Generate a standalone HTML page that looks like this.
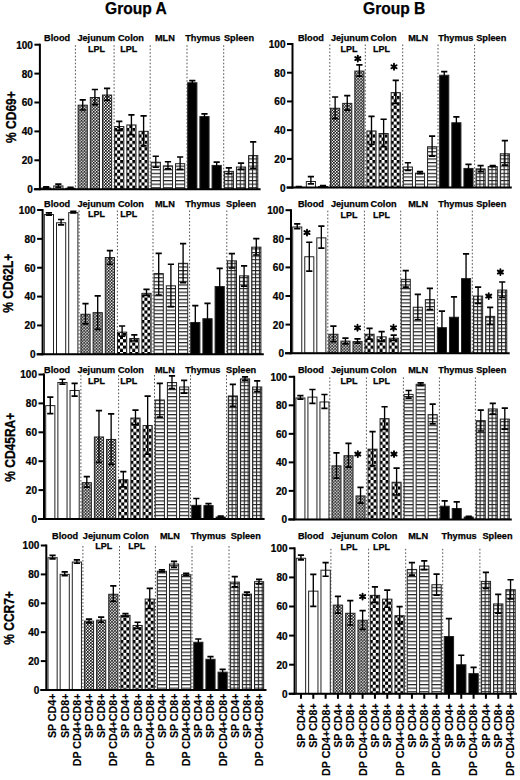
<!DOCTYPE html><html><head><meta charset="utf-8"><style>html,body{margin:0;padding:0;background:#fff;}svg{display:block;}text{font-family:"Liberation Sans",sans-serif;font-weight:bold;fill:#000;stroke:#000;stroke-width:0.25px;}</style></head><body>
<svg width="520" height="780" viewBox="0 0 520 780">
<defs>
<pattern id="pj" patternUnits="userSpaceOnUse" width="3" height="3"><rect width="3" height="3" fill="#fff"/><rect x="0" y="0" width="1.7" height="1.7" fill="#111"/><rect x="1.5" y="1.5" width="1.7" height="1.7" fill="#111"/></pattern>
<pattern id="pc" patternUnits="userSpaceOnUse" width="6" height="6.4"><rect width="6" height="6.4" fill="#fff"/><rect x="0" y="0" width="3" height="3.2" fill="#000"/><rect x="3" y="3.2" width="3" height="3.2" fill="#000"/></pattern>
<pattern id="pm" patternUnits="userSpaceOnUse" width="4" height="3.6"><rect width="4" height="3.6" fill="#fff"/><rect x="0" y="0" width="4" height="1.2" fill="#222"/></pattern>
<pattern id="ps" patternUnits="userSpaceOnUse" width="3.85" height="3.6"><rect width="3.85" height="3.6" fill="#fff"/><rect x="0" y="0" width="3.85" height="1.1" fill="#222"/><rect x="0" y="0" width="1.1" height="3.6" fill="#222"/></pattern>
</defs>
<rect width="520" height="780" fill="#fff"/>
<text x="105" y="13.8" font-size="15.6" text-anchor="start">Group A</text>
<text x="363" y="13.8" font-size="15.6" text-anchor="start">Group B</text>
<line x1="75.4" y1="45.2" x2="75.4" y2="189.2" stroke="#555" stroke-width="1" stroke-dasharray="1.6 1.9"/>
<line x1="114.1" y1="45.2" x2="114.1" y2="189.2" stroke="#555" stroke-width="1" stroke-dasharray="1.6 1.9"/>
<line x1="150.2" y1="45.2" x2="150.2" y2="189.2" stroke="#555" stroke-width="1" stroke-dasharray="1.6 1.9"/>
<line x1="187" y1="45.2" x2="187" y2="189.2" stroke="#555" stroke-width="1" stroke-dasharray="1.6 1.9"/>
<line x1="223.7" y1="45.2" x2="223.7" y2="189.2" stroke="#555" stroke-width="1" stroke-dasharray="1.6 1.9"/>
<g transform="translate(41.1 0)"><rect x="0.5" y="187.97" width="9.18" height="1.23" fill="#fff" stroke="#222" stroke-width="1"/></g>
<path d="M46.19 186.89V188.04" stroke="#000" stroke-width="1.35" fill="none"/>
<path d="M43.09 186.89H49.29M43.09 188.04H49.29" stroke="#000" stroke-width="1.7" fill="none"/>
<g transform="translate(53.28 0)"><rect x="0.5" y="185.94" width="9.18" height="3.26" fill="#fff" stroke="#222" stroke-width="1"/></g>
<path d="M58.36 184.14V187.03" stroke="#000" stroke-width="1.35" fill="none"/>
<path d="M55.26 184.14H61.46M55.26 187.03H61.46" stroke="#000" stroke-width="1.7" fill="none"/>
<g transform="translate(65.45 0)"><rect x="0.5" y="188.25" width="9.18" height="0.94" fill="#fff" stroke="#222" stroke-width="1"/></g>
<path d="M70.54 187.32V188.19" stroke="#000" stroke-width="1.35" fill="none"/>
<path d="M67.44 187.32H73.64M67.44 188.19H73.64" stroke="#000" stroke-width="1.7" fill="none"/>
<g transform="translate(77.63 0)"><rect x="0.5" y="105.17" width="9.18" height="84.03" fill="url(#pj)" stroke="#222" stroke-width="1"/></g>
<path d="M82.72 99.9V110.01" stroke="#000" stroke-width="1.35" fill="none"/>
<path d="M79.62 99.9H85.82M79.62 110.01H85.82" stroke="#000" stroke-width="1.7" fill="none"/>
<g transform="translate(89.81 0)"><rect x="0.5" y="97.51" width="9.18" height="91.69" fill="url(#pj)" stroke="#222" stroke-width="1"/></g>
<path d="M94.89 89.49V104.67" stroke="#000" stroke-width="1.35" fill="none"/>
<path d="M91.79 89.49H97.99M91.79 104.67H97.99" stroke="#000" stroke-width="1.7" fill="none"/>
<g transform="translate(101.98 0)"><rect x="0.5" y="95.05" width="9.18" height="94.15" fill="url(#pj)" stroke="#222" stroke-width="1"/></g>
<path d="M107.07 88.34V100.33" stroke="#000" stroke-width="1.35" fill="none"/>
<path d="M103.97 88.34H110.17M103.97 100.33H110.17" stroke="#000" stroke-width="1.7" fill="none"/>
<g transform="translate(114.16 0)"><rect x="0.5" y="126.55" width="9.18" height="62.65" fill="url(#pc)" stroke="#222" stroke-width="1"/></g>
<path d="M119.25 121.43V130.39" stroke="#000" stroke-width="1.35" fill="none"/>
<path d="M116.15 121.43H122.35M116.15 130.39H122.35" stroke="#000" stroke-width="1.7" fill="none"/>
<g transform="translate(126.34 0)"><rect x="0.5" y="124.96" width="9.18" height="64.24" fill="url(#pc)" stroke="#222" stroke-width="1"/></g>
<path d="M131.42 114.93V134.72" stroke="#000" stroke-width="1.35" fill="none"/>
<path d="M128.32 114.93H134.52M128.32 134.72H134.52" stroke="#000" stroke-width="1.7" fill="none"/>
<g transform="translate(138.51 0)"><rect x="0.5" y="131.32" width="9.18" height="57.88" fill="url(#pc)" stroke="#222" stroke-width="1"/></g>
<path d="M143.6 115.79V145.85" stroke="#000" stroke-width="1.35" fill="none"/>
<path d="M140.5 115.79H146.7M140.5 145.85H146.7" stroke="#000" stroke-width="1.7" fill="none"/>
<g transform="translate(150.69 0)"><rect x="0.5" y="162.24" width="9.18" height="26.96" fill="url(#pm)" stroke="#222" stroke-width="1"/></g>
<path d="M155.78 156.25V167.24" stroke="#000" stroke-width="1.35" fill="none"/>
<path d="M152.68 156.25H158.88M152.68 167.24H158.88" stroke="#000" stroke-width="1.7" fill="none"/>
<g transform="translate(162.86 0)"><rect x="0.5" y="165.86" width="9.18" height="23.34" fill="url(#pm)" stroke="#222" stroke-width="1"/></g>
<path d="M167.95 161.74V168.97" stroke="#000" stroke-width="1.35" fill="none"/>
<path d="M164.85 161.74H171.05M164.85 168.97H171.05" stroke="#000" stroke-width="1.7" fill="none"/>
<g transform="translate(175.04 0)"><rect x="0.5" y="163.69" width="9.18" height="25.51" fill="url(#pm)" stroke="#222" stroke-width="1"/></g>
<path d="M180.13 156.98V169.4" stroke="#000" stroke-width="1.35" fill="none"/>
<path d="M177.03 156.98H183.23M177.03 169.4H183.23" stroke="#000" stroke-width="1.7" fill="none"/>
<g transform="translate(187.22 0)"><rect x="0.5" y="82.77" width="9.18" height="106.43" fill="#000" stroke="#222" stroke-width="1"/></g>
<path d="M192.31 80.54V84" stroke="#000" stroke-width="1.35" fill="none"/>
<path d="M189.21 80.54H195.41M189.21 84H195.41" stroke="#000" stroke-width="1.7" fill="none"/>
<g transform="translate(199.39 0)"><rect x="0.5" y="116.58" width="9.18" height="72.62" fill="#000" stroke="#222" stroke-width="1"/></g>
<path d="M204.48 113.92V118.25" stroke="#000" stroke-width="1.35" fill="none"/>
<path d="M201.38 113.92H207.58M201.38 118.25H207.58" stroke="#000" stroke-width="1.7" fill="none"/>
<g transform="translate(211.57 0)"><rect x="0.5" y="165.42" width="9.18" height="23.78" fill="#000" stroke="#222" stroke-width="1"/></g>
<path d="M216.66 162.03V167.81" stroke="#000" stroke-width="1.35" fill="none"/>
<path d="M213.56 162.03H219.76M213.56 167.81H219.76" stroke="#000" stroke-width="1.7" fill="none"/>
<g transform="translate(223.75 0)"><rect x="0.5" y="171.35" width="9.18" height="17.85" fill="url(#ps)" stroke="#222" stroke-width="1"/></g>
<path d="M228.84 167.96V173.74" stroke="#000" stroke-width="1.35" fill="none"/>
<path d="M225.74 167.96H231.94M225.74 173.74H231.94" stroke="#000" stroke-width="1.7" fill="none"/>
<g transform="translate(235.92 0)"><rect x="0.5" y="167.01" width="9.18" height="22.19" fill="url(#ps)" stroke="#222" stroke-width="1"/></g>
<path d="M241.01 163.19V169.4" stroke="#000" stroke-width="1.35" fill="none"/>
<path d="M237.91 163.19H244.11M237.91 169.4H244.11" stroke="#000" stroke-width="1.7" fill="none"/>
<g transform="translate(248.1 0)"><rect x="0.5" y="155.6" width="9.18" height="33.6" fill="url(#ps)" stroke="#222" stroke-width="1"/></g>
<path d="M253.19 141.95V168.25" stroke="#000" stroke-width="1.35" fill="none"/>
<path d="M250.09 141.95H256.29M250.09 168.25H256.29" stroke="#000" stroke-width="1.7" fill="none"/>
<path d="M33.9 189.2H260.6" stroke="#000" stroke-width="2"/>
<path d="M39.9 43.7V190.2" stroke="#000" stroke-width="2"/>
<path d="M34.4 189.2H39.9" stroke="#000" stroke-width="2"/>
<text x="0" y="0" font-size="10.8" text-anchor="end" transform="translate(32.9 193.1) scale(0.93 1)">0</text>
<path d="M34.4 160.3H39.9" stroke="#000" stroke-width="2"/>
<text x="0" y="0" font-size="10.8" text-anchor="end" transform="translate(32.9 164.2) scale(0.93 1)">20</text>
<path d="M34.4 131.4H39.9" stroke="#000" stroke-width="2"/>
<text x="0" y="0" font-size="10.8" text-anchor="end" transform="translate(32.9 135.3) scale(0.93 1)">40</text>
<path d="M34.4 102.5H39.9" stroke="#000" stroke-width="2"/>
<text x="0" y="0" font-size="10.8" text-anchor="end" transform="translate(32.9 106.4) scale(0.93 1)">60</text>
<path d="M34.4 73.6H39.9" stroke="#000" stroke-width="2"/>
<text x="0" y="0" font-size="10.8" text-anchor="end" transform="translate(32.9 77.5) scale(0.93 1)">80</text>
<path d="M34.4 44.7H39.9" stroke="#000" stroke-width="2"/>
<text x="0" y="0" font-size="10.8" text-anchor="end" transform="translate(32.9 48.6) scale(0.93 1)">100</text>
<text x="44.1" y="40.8" font-size="9.2" text-anchor="start">Blood</text>
<text x="77.4" y="40.8" font-size="9.2" text-anchor="start">Jejunum</text>
<text x="117.9" y="40.8" font-size="9.2" text-anchor="start">Colon</text>
<text x="154.9" y="40.8" font-size="9.2" text-anchor="start">MLN</text>
<text x="185.2" y="40.8" font-size="9.2" text-anchor="start">Thymus</text>
<text x="223.9" y="40.8" font-size="9.2" text-anchor="start">Spleen</text>
<text x="87.9" y="51.6" font-size="9" text-anchor="start">LPL</text>
<text x="120.2" y="51.6" font-size="9" text-anchor="start">LPL</text>
<line x1="329.8" y1="44.5" x2="329.8" y2="187.6" stroke="#555" stroke-width="1" stroke-dasharray="1.6 1.9"/>
<line x1="365.3" y1="44.5" x2="365.3" y2="187.6" stroke="#555" stroke-width="1" stroke-dasharray="1.6 1.9"/>
<line x1="402.7" y1="44.5" x2="402.7" y2="187.6" stroke="#555" stroke-width="1" stroke-dasharray="1.6 1.9"/>
<line x1="438" y1="44.5" x2="438" y2="187.6" stroke="#555" stroke-width="1" stroke-dasharray="1.6 1.9"/>
<line x1="474.6" y1="44.5" x2="474.6" y2="187.6" stroke="#555" stroke-width="1" stroke-dasharray="1.6 1.9"/>
<g transform="translate(293.7 0)"><rect x="0.5" y="187.38" width="9.12" height="0.22" fill="#fff" stroke="#222" stroke-width="1"/></g>
<path d="M298.76 186.59V187.17" stroke="#000" stroke-width="1.35" fill="none"/>
<path d="M295.66 186.59H301.86M295.66 187.17H301.86" stroke="#000" stroke-width="1.7" fill="none"/>
<g transform="translate(305.82 0)"><rect x="0.5" y="181.49" width="9.12" height="6.11" fill="#fff" stroke="#222" stroke-width="1"/></g>
<path d="M310.89 176.69V183.87" stroke="#000" stroke-width="1.35" fill="none"/>
<path d="M307.79 176.69H313.99M307.79 183.87H313.99" stroke="#000" stroke-width="1.7" fill="none"/>
<g transform="translate(317.95 0)"><rect x="0.5" y="186.52" width="9.12" height="1.08" fill="#fff" stroke="#222" stroke-width="1"/></g>
<path d="M323.01 185.59V186.45" stroke="#000" stroke-width="1.35" fill="none"/>
<path d="M319.91 185.59H326.11M319.91 186.45H326.11" stroke="#000" stroke-width="1.7" fill="none"/>
<g transform="translate(330.07 0)"><rect x="0.5" y="108.26" width="9.12" height="79.34" fill="url(#pj)" stroke="#222" stroke-width="1"/></g>
<path d="M335.13 96.99V118.67" stroke="#000" stroke-width="1.35" fill="none"/>
<path d="M332.03 96.99H338.23M332.03 118.67H338.23" stroke="#000" stroke-width="1.7" fill="none"/>
<g transform="translate(342.19 0)"><rect x="0.5" y="103.38" width="9.12" height="84.22" fill="url(#pj)" stroke="#222" stroke-width="1"/></g>
<path d="M347.26 95.55V110.06" stroke="#000" stroke-width="1.35" fill="none"/>
<path d="M344.16 95.55H350.36M344.16 110.06H350.36" stroke="#000" stroke-width="1.7" fill="none"/>
<g transform="translate(354.32 0)"><rect x="0.5" y="71.07" width="9.12" height="116.53" fill="url(#pj)" stroke="#222" stroke-width="1"/></g>
<path d="M359.38 64.82V76.17" stroke="#000" stroke-width="1.35" fill="none"/>
<path d="M356.28 64.82H362.48M356.28 76.17H362.48" stroke="#000" stroke-width="1.7" fill="none"/>
<g transform="translate(366.44 0)"><rect x="0.5" y="130.95" width="9.12" height="56.65" fill="url(#pc)" stroke="#222" stroke-width="1"/></g>
<path d="M371.5 116.37V144.52" stroke="#000" stroke-width="1.35" fill="none"/>
<path d="M368.4 116.37H374.6M368.4 144.52H374.6" stroke="#000" stroke-width="1.7" fill="none"/>
<g transform="translate(378.56 0)"><rect x="0.5" y="133.53" width="9.12" height="54.07" fill="url(#pc)" stroke="#222" stroke-width="1"/></g>
<path d="M383.63 119.25V146.67" stroke="#000" stroke-width="1.35" fill="none"/>
<path d="M380.53 119.25H386.73M380.53 146.67H386.73" stroke="#000" stroke-width="1.7" fill="none"/>
<g transform="translate(390.69 0)"><rect x="0.5" y="92.61" width="9.12" height="94.99" fill="url(#pc)" stroke="#222" stroke-width="1"/></g>
<path d="M395.75 80.33V103.45" stroke="#000" stroke-width="1.35" fill="none"/>
<path d="M392.65 80.33H398.85M392.65 103.45H398.85" stroke="#000" stroke-width="1.7" fill="none"/>
<g transform="translate(402.81 0)"><rect x="0.5" y="166.99" width="9.12" height="20.61" fill="url(#pm)" stroke="#222" stroke-width="1"/></g>
<path d="M407.87 162.76V170.51" stroke="#000" stroke-width="1.35" fill="none"/>
<path d="M404.77 162.76H410.97M404.77 170.51H410.97" stroke="#000" stroke-width="1.7" fill="none"/>
<g transform="translate(414.94 0)"><rect x="0.5" y="173.17" width="9.12" height="14.43" fill="url(#pm)" stroke="#222" stroke-width="1"/></g>
<path d="M420 171.66V173.67" stroke="#000" stroke-width="1.35" fill="none"/>
<path d="M416.9 171.66H423.1M416.9 173.67H423.1" stroke="#000" stroke-width="1.7" fill="none"/>
<g transform="translate(427.06 0)"><rect x="0.5" y="146.74" width="9.12" height="40.86" fill="url(#pm)" stroke="#222" stroke-width="1"/></g>
<path d="M432.12 136.19V156.15" stroke="#000" stroke-width="1.35" fill="none"/>
<path d="M429.02 136.19H435.22M429.02 156.15H435.22" stroke="#000" stroke-width="1.7" fill="none"/>
<g transform="translate(439.18 0)"><rect x="0.5" y="75.23" width="9.12" height="112.37" fill="#000" stroke="#222" stroke-width="1"/></g>
<path d="M444.24 71.57V77.89" stroke="#000" stroke-width="1.35" fill="none"/>
<path d="M441.14 71.57H447.34M441.14 77.89H447.34" stroke="#000" stroke-width="1.7" fill="none"/>
<g transform="translate(451.31 0)"><rect x="0.5" y="122.76" width="9.12" height="64.84" fill="#000" stroke="#222" stroke-width="1"/></g>
<path d="M456.37 116.95V127.58" stroke="#000" stroke-width="1.35" fill="none"/>
<path d="M453.27 116.95H459.47M453.27 127.58H459.47" stroke="#000" stroke-width="1.7" fill="none"/>
<g transform="translate(463.43 0)"><rect x="0.5" y="168.43" width="9.12" height="19.17" fill="#000" stroke="#222" stroke-width="1"/></g>
<path d="M468.49 164.34V171.52" stroke="#000" stroke-width="1.35" fill="none"/>
<path d="M465.39 164.34H471.59M465.39 171.52H471.59" stroke="#000" stroke-width="1.7" fill="none"/>
<g transform="translate(475.55 0)"><rect x="0.5" y="168.86" width="9.12" height="18.74" fill="url(#ps)" stroke="#222" stroke-width="1"/></g>
<path d="M480.61 165.63V171.66" stroke="#000" stroke-width="1.35" fill="none"/>
<path d="M477.51 165.63H483.71M477.51 171.66H483.71" stroke="#000" stroke-width="1.7" fill="none"/>
<g transform="translate(487.68 0)"><rect x="0.5" y="166.56" width="9.12" height="21.04" fill="url(#ps)" stroke="#222" stroke-width="1"/></g>
<path d="M492.74 165.49V166.63" stroke="#000" stroke-width="1.35" fill="none"/>
<path d="M489.64 165.49H495.84M489.64 166.63H495.84" stroke="#000" stroke-width="1.7" fill="none"/>
<g transform="translate(499.8 0)"><rect x="0.5" y="153.78" width="9.12" height="33.82" fill="url(#ps)" stroke="#222" stroke-width="1"/></g>
<path d="M504.86 140.64V165.05" stroke="#000" stroke-width="1.35" fill="none"/>
<path d="M501.76 140.64H507.96M501.76 165.05H507.96" stroke="#000" stroke-width="1.7" fill="none"/>
<path d="M286.5 187.6H511.8" stroke="#000" stroke-width="2"/>
<path d="M292.5 43V188.6" stroke="#000" stroke-width="2"/>
<path d="M287 187.6H292.5" stroke="#000" stroke-width="2"/>
<text x="0" y="0" font-size="10.8" text-anchor="end" transform="translate(285.5 191.5) scale(0.93 1)">0</text>
<path d="M287 158.88H292.5" stroke="#000" stroke-width="2"/>
<text x="0" y="0" font-size="10.8" text-anchor="end" transform="translate(285.5 162.78) scale(0.93 1)">20</text>
<path d="M287 130.16H292.5" stroke="#000" stroke-width="2"/>
<text x="0" y="0" font-size="10.8" text-anchor="end" transform="translate(285.5 134.06) scale(0.93 1)">40</text>
<path d="M287 101.44H292.5" stroke="#000" stroke-width="2"/>
<text x="0" y="0" font-size="10.8" text-anchor="end" transform="translate(285.5 105.34) scale(0.93 1)">60</text>
<path d="M287 72.72H292.5" stroke="#000" stroke-width="2"/>
<text x="0" y="0" font-size="10.8" text-anchor="end" transform="translate(285.5 76.62) scale(0.93 1)">80</text>
<path d="M287 44H292.5" stroke="#000" stroke-width="2"/>
<text x="0" y="0" font-size="10.8" text-anchor="end" transform="translate(285.5 47.9) scale(0.93 1)">100</text>
<path d="M357.8 55.6L357.8 61.6M355.2 57.1L360.4 60.1M360.4 57.1L355.2 60.1" stroke="#000" stroke-width="1.9" stroke-linecap="round" fill="none"/>
<path d="M394 63.7L394 69.7M391.4 65.2L396.6 68.2M396.6 65.2L391.4 68.2" stroke="#000" stroke-width="1.9" stroke-linecap="round" fill="none"/>
<text x="297.9" y="40.8" font-size="9.2" text-anchor="start">Blood</text>
<text x="330.9" y="40.8" font-size="9.2" text-anchor="start">Jejunum</text>
<text x="370.6" y="40.8" font-size="9.2" text-anchor="start">Colon</text>
<text x="408.15" y="40.8" font-size="9.2" text-anchor="start">MLN</text>
<text x="438.15" y="40.8" font-size="9.2" text-anchor="start">Thymus</text>
<text x="476.15" y="40.8" font-size="9.2" text-anchor="start">Spleen</text>
<text x="340.6" y="51.9" font-size="9" text-anchor="start">LPL</text>
<text x="372.9" y="51.9" font-size="9" text-anchor="start">LPL</text>
<line x1="79.1" y1="210.5" x2="79.1" y2="354.3" stroke="#555" stroke-width="1" stroke-dasharray="1.6 1.9"/>
<line x1="117.4" y1="210.5" x2="117.4" y2="354.3" stroke="#555" stroke-width="1" stroke-dasharray="1.6 1.9"/>
<line x1="153" y1="210.5" x2="153" y2="354.3" stroke="#555" stroke-width="1" stroke-dasharray="1.6 1.9"/>
<line x1="189.6" y1="210.5" x2="189.6" y2="354.3" stroke="#555" stroke-width="1" stroke-dasharray="1.6 1.9"/>
<line x1="226.8" y1="210.5" x2="226.8" y2="354.3" stroke="#555" stroke-width="1" stroke-dasharray="1.6 1.9"/>
<g transform="translate(43.8 0)"><rect x="0.5" y="214.54" width="9.2" height="139.76" fill="#fff" stroke="#222" stroke-width="1"/></g>
<path d="M48.9 212.89V215.19" stroke="#000" stroke-width="1.35" fill="none"/>
<path d="M45.8 212.89H52M45.8 215.19H52" stroke="#000" stroke-width="1.7" fill="none"/>
<g transform="translate(56 0)"><rect x="0.5" y="222.77" width="9.2" height="131.53" fill="#fff" stroke="#222" stroke-width="1"/></g>
<path d="M61.1 219.52V224.86" stroke="#000" stroke-width="1.35" fill="none"/>
<path d="M58 219.52H64.2M58 224.86H64.2" stroke="#000" stroke-width="1.7" fill="none"/>
<g transform="translate(68.2 0)"><rect x="0.5" y="212.66" width="9.2" height="141.64" fill="#fff" stroke="#222" stroke-width="1"/></g>
<path d="M73.3 211.44V212.89" stroke="#000" stroke-width="1.35" fill="none"/>
<path d="M70.2 211.44H76.4M70.2 212.89H76.4" stroke="#000" stroke-width="1.7" fill="none"/>
<g transform="translate(80.4 0)"><rect x="0.5" y="314.25" width="9.2" height="40.05" fill="url(#pj)" stroke="#222" stroke-width="1"/></g>
<path d="M85.5 303.65V323.85" stroke="#000" stroke-width="1.35" fill="none"/>
<path d="M82.4 303.65H88.6M82.4 323.85H88.6" stroke="#000" stroke-width="1.7" fill="none"/>
<g transform="translate(92.6 0)"><rect x="0.5" y="312.66" width="9.2" height="41.64" fill="url(#pj)" stroke="#222" stroke-width="1"/></g>
<path d="M97.7 295.86V329.34" stroke="#000" stroke-width="1.35" fill="none"/>
<path d="M94.6 295.86H100.8M94.6 329.34H100.8" stroke="#000" stroke-width="1.7" fill="none"/>
<g transform="translate(104.8 0)"><rect x="0.5" y="257.54" width="9.2" height="96.76" fill="url(#pj)" stroke="#222" stroke-width="1"/></g>
<path d="M109.9 250.55V264.26" stroke="#000" stroke-width="1.35" fill="none"/>
<path d="M106.8 250.55H113M106.8 264.26H113" stroke="#000" stroke-width="1.7" fill="none"/>
<g transform="translate(117 0)"><rect x="0.5" y="332.14" width="9.2" height="22.16" fill="url(#pc)" stroke="#222" stroke-width="1"/></g>
<path d="M122.1 326.02V336.26" stroke="#000" stroke-width="1.35" fill="none"/>
<path d="M119 326.02H125.2M119 336.26H125.2" stroke="#000" stroke-width="1.7" fill="none"/>
<g transform="translate(129.2 0)"><rect x="0.5" y="338.49" width="9.2" height="15.81" fill="url(#pc)" stroke="#222" stroke-width="1"/></g>
<path d="M134.3 334.82V341.02" stroke="#000" stroke-width="1.35" fill="none"/>
<path d="M131.2 334.82H137.4M131.2 341.02H137.4" stroke="#000" stroke-width="1.7" fill="none"/>
<g transform="translate(141.4 0)"><rect x="0.5" y="293.33" width="9.2" height="60.97" fill="url(#pc)" stroke="#222" stroke-width="1"/></g>
<path d="M146.5 289.37V295.43" stroke="#000" stroke-width="1.35" fill="none"/>
<path d="M143.4 289.37H149.6M143.4 295.43H149.6" stroke="#000" stroke-width="1.7" fill="none"/>
<g transform="translate(153.6 0)"><rect x="0.5" y="273.56" width="9.2" height="80.74" fill="url(#pm)" stroke="#222" stroke-width="1"/></g>
<path d="M158.7 253.43V294.99" stroke="#000" stroke-width="1.35" fill="none"/>
<path d="M155.6 253.43H161.8M155.6 294.99H161.8" stroke="#000" stroke-width="1.7" fill="none"/>
<g transform="translate(165.8 0)"><rect x="0.5" y="285.82" width="9.2" height="68.48" fill="url(#pm)" stroke="#222" stroke-width="1"/></g>
<path d="M170.9 264.26V306.68" stroke="#000" stroke-width="1.35" fill="none"/>
<path d="M167.8 264.26H174M167.8 306.68H174" stroke="#000" stroke-width="1.7" fill="none"/>
<g transform="translate(178 0)"><rect x="0.5" y="263.31" width="9.2" height="90.99" fill="url(#pm)" stroke="#222" stroke-width="1"/></g>
<path d="M183.1 243.62V282.58" stroke="#000" stroke-width="1.35" fill="none"/>
<path d="M180 243.62H186.2M180 282.58H186.2" stroke="#000" stroke-width="1.7" fill="none"/>
<g transform="translate(190.2 0)"><rect x="0.5" y="322.48" width="9.2" height="31.82" fill="#000" stroke="#222" stroke-width="1"/></g>
<path d="M195.3 305.67V338.28" stroke="#000" stroke-width="1.35" fill="none"/>
<path d="M192.2 305.67H198.4M192.2 338.28H198.4" stroke="#000" stroke-width="1.7" fill="none"/>
<g transform="translate(202.4 0)"><rect x="0.5" y="318.73" width="9.2" height="35.57" fill="#000" stroke="#222" stroke-width="1"/></g>
<path d="M207.5 303.36V333.09" stroke="#000" stroke-width="1.35" fill="none"/>
<path d="M204.4 303.36H210.6M204.4 333.09H210.6" stroke="#000" stroke-width="1.7" fill="none"/>
<g transform="translate(214.6 0)"><rect x="0.5" y="286.55" width="9.2" height="67.75" fill="#000" stroke="#222" stroke-width="1"/></g>
<path d="M219.7 268.44V303.65" stroke="#000" stroke-width="1.35" fill="none"/>
<path d="M216.6 268.44H222.8M216.6 303.65H222.8" stroke="#000" stroke-width="1.7" fill="none"/>
<g transform="translate(226.8 0)"><rect x="0.5" y="260.86" width="9.2" height="93.44" fill="url(#ps)" stroke="#222" stroke-width="1"/></g>
<path d="M231.9 253.58V268.01" stroke="#000" stroke-width="1.35" fill="none"/>
<path d="M228.8 253.58H235M228.8 268.01H235" stroke="#000" stroke-width="1.7" fill="none"/>
<g transform="translate(239 0)"><rect x="0.5" y="275.87" width="9.2" height="78.43" fill="url(#ps)" stroke="#222" stroke-width="1"/></g>
<path d="M244.1 265.84V286.05" stroke="#000" stroke-width="1.35" fill="none"/>
<path d="M241 265.84H247.2M241 286.05H247.2" stroke="#000" stroke-width="1.7" fill="none"/>
<g transform="translate(251.2 0)"><rect x="0.5" y="247.15" width="9.2" height="107.15" fill="url(#ps)" stroke="#222" stroke-width="1"/></g>
<path d="M256.3 238.72V255.02" stroke="#000" stroke-width="1.35" fill="none"/>
<path d="M253.2 238.72H259.4M253.2 255.02H259.4" stroke="#000" stroke-width="1.7" fill="none"/>
<path d="M36.6 354.3H263.8" stroke="#000" stroke-width="2"/>
<path d="M42.6 209V355.3" stroke="#000" stroke-width="2"/>
<path d="M37.1 354.3H42.6" stroke="#000" stroke-width="2"/>
<text x="0" y="0" font-size="10.8" text-anchor="end" transform="translate(35.6 358.2) scale(0.93 1)">0</text>
<path d="M37.1 325.44H42.6" stroke="#000" stroke-width="2"/>
<text x="0" y="0" font-size="10.8" text-anchor="end" transform="translate(35.6 329.34) scale(0.93 1)">20</text>
<path d="M37.1 296.58H42.6" stroke="#000" stroke-width="2"/>
<text x="0" y="0" font-size="10.8" text-anchor="end" transform="translate(35.6 300.48) scale(0.93 1)">40</text>
<path d="M37.1 267.72H42.6" stroke="#000" stroke-width="2"/>
<text x="0" y="0" font-size="10.8" text-anchor="end" transform="translate(35.6 271.62) scale(0.93 1)">60</text>
<path d="M37.1 238.86H42.6" stroke="#000" stroke-width="2"/>
<text x="0" y="0" font-size="10.8" text-anchor="end" transform="translate(35.6 242.76) scale(0.93 1)">80</text>
<path d="M37.1 210H42.6" stroke="#000" stroke-width="2"/>
<text x="0" y="0" font-size="10.8" text-anchor="end" transform="translate(35.6 213.9) scale(0.93 1)">100</text>
<text x="44.1" y="206.8" font-size="9.2" text-anchor="start">Blood</text>
<text x="77.4" y="206.8" font-size="9.2" text-anchor="start">Jejunum</text>
<text x="117.9" y="206.8" font-size="9.2" text-anchor="start">Colon</text>
<text x="154.9" y="206.8" font-size="9.2" text-anchor="start">MLN</text>
<text x="185.2" y="206.8" font-size="9.2" text-anchor="start">Thymus</text>
<text x="226" y="206.8" font-size="9.2" text-anchor="start">Spleen</text>
<text x="87.9" y="217.2" font-size="9" text-anchor="start">LPL</text>
<text x="120.2" y="217.2" font-size="9" text-anchor="start">LPL</text>
<line x1="327.8" y1="210.7" x2="327.8" y2="353.2" stroke="#555" stroke-width="1" stroke-dasharray="1.6 1.9"/>
<line x1="364.4" y1="210.7" x2="364.4" y2="353.2" stroke="#555" stroke-width="1" stroke-dasharray="1.6 1.9"/>
<line x1="400.7" y1="210.7" x2="400.7" y2="353.2" stroke="#555" stroke-width="1" stroke-dasharray="1.6 1.9"/>
<line x1="437.4" y1="210.7" x2="437.4" y2="353.2" stroke="#555" stroke-width="1" stroke-dasharray="1.6 1.9"/>
<line x1="472.3" y1="210.7" x2="472.3" y2="353.2" stroke="#555" stroke-width="1" stroke-dasharray="1.6 1.9"/>
<g transform="translate(292.2 0)"><rect x="0.5" y="227" width="9.06" height="126.2" fill="#fff" stroke="#222" stroke-width="1"/></g>
<path d="M297.23 223.93V228.65" stroke="#000" stroke-width="1.35" fill="none"/>
<path d="M294.13 223.93H300.33M294.13 228.65H300.33" stroke="#000" stroke-width="1.7" fill="none"/>
<g transform="translate(304.26 0)"><rect x="0.5" y="256.75" width="9.06" height="96.45" fill="#fff" stroke="#222" stroke-width="1"/></g>
<path d="M309.29 242.23V271.12" stroke="#000" stroke-width="1.35" fill="none"/>
<path d="M306.19 242.23H312.39M306.19 271.12H312.39" stroke="#000" stroke-width="1.7" fill="none"/>
<g transform="translate(316.32 0)"><rect x="0.5" y="237.87" width="9.06" height="115.33" fill="#fff" stroke="#222" stroke-width="1"/></g>
<path d="M321.35 226.07V248.09" stroke="#000" stroke-width="1.35" fill="none"/>
<path d="M318.25 226.07H324.45M318.25 248.09H324.45" stroke="#000" stroke-width="1.7" fill="none"/>
<g transform="translate(328.38 0)"><rect x="0.5" y="334.25" width="9.06" height="18.95" fill="url(#pj)" stroke="#222" stroke-width="1"/></g>
<path d="M333.41 326.03V341.76" stroke="#000" stroke-width="1.35" fill="none"/>
<path d="M330.31 326.03H336.51M330.31 341.76H336.51" stroke="#000" stroke-width="1.7" fill="none"/>
<g transform="translate(340.44 0)"><rect x="0.5" y="341.12" width="9.06" height="12.08" fill="url(#pj)" stroke="#222" stroke-width="1"/></g>
<path d="M345.46 338.04V343.9" stroke="#000" stroke-width="1.35" fill="none"/>
<path d="M342.36 338.04H348.56M342.36 343.9H348.56" stroke="#000" stroke-width="1.7" fill="none"/>
<g transform="translate(352.49 0)"><rect x="0.5" y="341.55" width="9.06" height="11.65" fill="url(#pj)" stroke="#222" stroke-width="1"/></g>
<path d="M357.52 338.9V343.19" stroke="#000" stroke-width="1.35" fill="none"/>
<path d="M354.42 338.9H360.62M354.42 343.19H360.62" stroke="#000" stroke-width="1.7" fill="none"/>
<g transform="translate(364.55 0)"><rect x="0.5" y="334.25" width="9.06" height="18.95" fill="url(#pc)" stroke="#222" stroke-width="1"/></g>
<path d="M369.58 328.46V339.04" stroke="#000" stroke-width="1.35" fill="none"/>
<path d="M366.48 328.46H372.68M366.48 339.04H372.68" stroke="#000" stroke-width="1.7" fill="none"/>
<g transform="translate(376.61 0)"><rect x="0.5" y="336.83" width="9.06" height="16.37" fill="url(#pc)" stroke="#222" stroke-width="1"/></g>
<path d="M381.64 331.61V341.05" stroke="#000" stroke-width="1.35" fill="none"/>
<path d="M378.54 331.61H384.74M378.54 341.05H384.74" stroke="#000" stroke-width="1.7" fill="none"/>
<g transform="translate(388.67 0)"><rect x="0.5" y="338.26" width="9.06" height="14.94" fill="url(#pc)" stroke="#222" stroke-width="1"/></g>
<path d="M393.7 335.18V340.33" stroke="#000" stroke-width="1.35" fill="none"/>
<path d="M390.6 335.18H396.8M390.6 340.33H396.8" stroke="#000" stroke-width="1.7" fill="none"/>
<g transform="translate(400.73 0)"><rect x="0.5" y="279.34" width="9.06" height="73.86" fill="url(#pm)" stroke="#222" stroke-width="1"/></g>
<path d="M405.76 270.69V287.13" stroke="#000" stroke-width="1.35" fill="none"/>
<path d="M402.66 270.69H408.86M402.66 287.13H408.86" stroke="#000" stroke-width="1.7" fill="none"/>
<g transform="translate(412.79 0)"><rect x="0.5" y="307.22" width="9.06" height="45.98" fill="url(#pm)" stroke="#222" stroke-width="1"/></g>
<path d="M417.82 294.28V319.74" stroke="#000" stroke-width="1.35" fill="none"/>
<path d="M414.72 294.28H420.92M414.72 319.74H420.92" stroke="#000" stroke-width="1.7" fill="none"/>
<g transform="translate(424.85 0)"><rect x="0.5" y="299.65" width="9.06" height="53.55" fill="url(#pm)" stroke="#222" stroke-width="1"/></g>
<path d="M429.88 288.28V309.58" stroke="#000" stroke-width="1.35" fill="none"/>
<path d="M426.78 288.28H432.98M426.78 309.58H432.98" stroke="#000" stroke-width="1.7" fill="none"/>
<g transform="translate(436.91 0)"><rect x="0.5" y="327.67" width="9.06" height="25.53" fill="#000" stroke="#222" stroke-width="1"/></g>
<path d="M441.94 311.16V343.19" stroke="#000" stroke-width="1.35" fill="none"/>
<path d="M438.84 311.16H445.04M438.84 343.19H445.04" stroke="#000" stroke-width="1.7" fill="none"/>
<g transform="translate(448.96 0)"><rect x="0.5" y="317.24" width="9.06" height="35.96" fill="#000" stroke="#222" stroke-width="1"/></g>
<path d="M453.99 296.86V336.61" stroke="#000" stroke-width="1.35" fill="none"/>
<path d="M450.89 296.86H457.09M450.89 336.61H457.09" stroke="#000" stroke-width="1.7" fill="none"/>
<g transform="translate(461.02 0)"><rect x="0.5" y="278.62" width="9.06" height="74.57" fill="#000" stroke="#222" stroke-width="1"/></g>
<path d="M466.05 253.96V302.29" stroke="#000" stroke-width="1.35" fill="none"/>
<path d="M462.95 253.96H469.15M462.95 302.29H469.15" stroke="#000" stroke-width="1.7" fill="none"/>
<g transform="translate(473.08 0)"><rect x="0.5" y="296.07" width="9.06" height="57.13" fill="url(#ps)" stroke="#222" stroke-width="1"/></g>
<path d="M478.11 287.13V303.29" stroke="#000" stroke-width="1.35" fill="none"/>
<path d="M475.01 287.13H481.21M475.01 303.29H481.21" stroke="#000" stroke-width="1.7" fill="none"/>
<g transform="translate(485.14 0)"><rect x="0.5" y="316.38" width="9.06" height="36.82" fill="url(#ps)" stroke="#222" stroke-width="1"/></g>
<path d="M490.17 307.44V324.31" stroke="#000" stroke-width="1.35" fill="none"/>
<path d="M487.07 307.44H493.27M487.07 324.31H493.27" stroke="#000" stroke-width="1.7" fill="none"/>
<g transform="translate(497.2 0)"><rect x="0.5" y="290.06" width="9.06" height="63.13" fill="url(#ps)" stroke="#222" stroke-width="1"/></g>
<path d="M502.23 281.99V297.29" stroke="#000" stroke-width="1.35" fill="none"/>
<path d="M499.13 281.99H505.33M499.13 297.29H505.33" stroke="#000" stroke-width="1.7" fill="none"/>
<path d="M285 353.2H509.7" stroke="#000" stroke-width="2"/>
<path d="M291 209.2V354.2" stroke="#000" stroke-width="2"/>
<path d="M285.5 353.2H291" stroke="#000" stroke-width="2"/>
<text x="0" y="0" font-size="10.8" text-anchor="end" transform="translate(284 357.1) scale(0.93 1)">0</text>
<path d="M285.5 324.6H291" stroke="#000" stroke-width="2"/>
<text x="0" y="0" font-size="10.8" text-anchor="end" transform="translate(284 328.5) scale(0.93 1)">20</text>
<path d="M285.5 296H291" stroke="#000" stroke-width="2"/>
<text x="0" y="0" font-size="10.8" text-anchor="end" transform="translate(284 299.9) scale(0.93 1)">40</text>
<path d="M285.5 267.4H291" stroke="#000" stroke-width="2"/>
<text x="0" y="0" font-size="10.8" text-anchor="end" transform="translate(284 271.3) scale(0.93 1)">60</text>
<path d="M285.5 238.8H291" stroke="#000" stroke-width="2"/>
<text x="0" y="0" font-size="10.8" text-anchor="end" transform="translate(284 242.7) scale(0.93 1)">80</text>
<path d="M285.5 210.2H291" stroke="#000" stroke-width="2"/>
<text x="0" y="0" font-size="10.8" text-anchor="end" transform="translate(284 214.1) scale(0.93 1)">100</text>
<path d="M307 229.6L307 235.6M304.4 231.1L309.6 234.1M309.6 231.1L304.4 234.1" stroke="#000" stroke-width="1.9" stroke-linecap="round" fill="none"/>
<path d="M357.5 324.7L357.5 330.7M354.9 326.2L360.1 329.2M360.1 326.2L354.9 329.2" stroke="#000" stroke-width="1.9" stroke-linecap="round" fill="none"/>
<path d="M393.5 324.7L393.5 330.7M390.9 326.2L396.1 329.2M396.1 326.2L390.9 329.2" stroke="#000" stroke-width="1.9" stroke-linecap="round" fill="none"/>
<path d="M488.7 293.1L488.7 299.1M486.1 294.6L491.3 297.6M491.3 294.6L486.1 297.6" stroke="#000" stroke-width="1.9" stroke-linecap="round" fill="none"/>
<path d="M500.4 269.1L500.4 275.1M497.8 270.6L503 273.6M503 270.6L497.8 273.6" stroke="#000" stroke-width="1.9" stroke-linecap="round" fill="none"/>
<text x="297.9" y="206.8" font-size="9.2" text-anchor="start">Blood</text>
<text x="330.9" y="206.8" font-size="9.2" text-anchor="start">Jejunum</text>
<text x="370.6" y="206.8" font-size="9.2" text-anchor="start">Colon</text>
<text x="408.15" y="206.8" font-size="9.2" text-anchor="start">MLN</text>
<text x="438.15" y="206.8" font-size="9.2" text-anchor="start">Thymus</text>
<text x="476.15" y="206.8" font-size="9.2" text-anchor="start">Spleen</text>
<text x="340.6" y="217.9" font-size="9" text-anchor="start">LPL</text>
<text x="372.9" y="217.9" font-size="9" text-anchor="start">LPL</text>
<line x1="80.9" y1="375" x2="80.9" y2="519" stroke="#555" stroke-width="1" stroke-dasharray="1.6 1.9"/>
<line x1="118.6" y1="375" x2="118.6" y2="519" stroke="#555" stroke-width="1" stroke-dasharray="1.6 1.9"/>
<line x1="154.5" y1="375" x2="154.5" y2="519" stroke="#555" stroke-width="1" stroke-dasharray="1.6 1.9"/>
<line x1="190.5" y1="375" x2="190.5" y2="519" stroke="#555" stroke-width="1" stroke-dasharray="1.6 1.9"/>
<line x1="226.5" y1="375" x2="226.5" y2="519" stroke="#555" stroke-width="1" stroke-dasharray="1.6 1.9"/>
<g transform="translate(45.2 0)"><rect x="0.5" y="405.63" width="9.17" height="113.37" fill="#fff" stroke="#222" stroke-width="1"/></g>
<path d="M50.29 397.04V413.66" stroke="#000" stroke-width="1.35" fill="none"/>
<path d="M47.19 397.04H53.39M47.19 413.66H53.39" stroke="#000" stroke-width="1.7" fill="none"/>
<g transform="translate(57.37 0)"><rect x="0.5" y="382.51" width="9.17" height="136.49" fill="#fff" stroke="#222" stroke-width="1"/></g>
<path d="M62.46 379.27V384.04" stroke="#000" stroke-width="1.35" fill="none"/>
<path d="M59.36 379.27H65.56M59.36 384.04H65.56" stroke="#000" stroke-width="1.7" fill="none"/>
<g transform="translate(69.54 0)"><rect x="0.5" y="390.46" width="9.17" height="128.54" fill="#fff" stroke="#222" stroke-width="1"/></g>
<path d="M74.63 383.46V396.03" stroke="#000" stroke-width="1.35" fill="none"/>
<path d="M71.53 383.46H77.73M71.53 396.03H77.73" stroke="#000" stroke-width="1.7" fill="none"/>
<g transform="translate(81.71 0)"><rect x="0.5" y="482.65" width="9.17" height="36.35" fill="url(#pj)" stroke="#222" stroke-width="1"/></g>
<path d="M86.8 476.66V487.07" stroke="#000" stroke-width="1.35" fill="none"/>
<path d="M83.7 476.66H89.9M83.7 487.07H89.9" stroke="#000" stroke-width="1.7" fill="none"/>
<g transform="translate(93.88 0)"><rect x="0.5" y="436.99" width="9.17" height="82.01" fill="url(#pj)" stroke="#222" stroke-width="1"/></g>
<path d="M98.97 410.62V462.36" stroke="#000" stroke-width="1.35" fill="none"/>
<path d="M95.87 410.62H102.07M95.87 462.36H102.07" stroke="#000" stroke-width="1.7" fill="none"/>
<g transform="translate(106.05 0)"><rect x="0.5" y="439.45" width="9.17" height="79.55" fill="url(#pj)" stroke="#222" stroke-width="1"/></g>
<path d="M111.14 413.95V464.38" stroke="#000" stroke-width="1.35" fill="none"/>
<path d="M108.04 413.95H114.24M108.04 464.38H114.24" stroke="#000" stroke-width="1.7" fill="none"/>
<g transform="translate(118.22 0)"><rect x="0.5" y="479.76" width="9.17" height="39.24" fill="url(#pc)" stroke="#222" stroke-width="1"/></g>
<path d="M123.31 471.6V486.78" stroke="#000" stroke-width="1.35" fill="none"/>
<path d="M120.21 471.6H126.41M120.21 486.78H126.41" stroke="#000" stroke-width="1.7" fill="none"/>
<g transform="translate(130.39 0)"><rect x="0.5" y="418.06" width="9.17" height="100.94" fill="url(#pc)" stroke="#222" stroke-width="1"/></g>
<path d="M135.48 410.19V424.93" stroke="#000" stroke-width="1.35" fill="none"/>
<path d="M132.38 410.19H138.58M132.38 424.93H138.58" stroke="#000" stroke-width="1.7" fill="none"/>
<g transform="translate(142.56 0)"><rect x="0.5" y="425.57" width="9.17" height="93.43" fill="url(#pc)" stroke="#222" stroke-width="1"/></g>
<path d="M147.65 396.03V454.12" stroke="#000" stroke-width="1.35" fill="none"/>
<path d="M144.55 396.03H150.75M144.55 454.12H150.75" stroke="#000" stroke-width="1.7" fill="none"/>
<g transform="translate(154.74 0)"><rect x="0.5" y="400" width="9.17" height="119" fill="url(#pm)" stroke="#222" stroke-width="1"/></g>
<path d="M159.82 383.31V417.13" stroke="#000" stroke-width="1.35" fill="none"/>
<path d="M156.72 383.31H162.92M156.72 417.13H162.92" stroke="#000" stroke-width="1.7" fill="none"/>
<g transform="translate(166.91 0)"><rect x="0.5" y="382.51" width="9.17" height="136.49" fill="url(#pm)" stroke="#222" stroke-width="1"/></g>
<path d="M171.99 375.94V388.66" stroke="#000" stroke-width="1.35" fill="none"/>
<path d="M168.89 375.94H175.09M168.89 388.66H175.09" stroke="#000" stroke-width="1.7" fill="none"/>
<g transform="translate(179.08 0)"><rect x="0.5" y="386.99" width="9.17" height="132.01" fill="url(#pm)" stroke="#222" stroke-width="1"/></g>
<path d="M184.16 380.42V393.14" stroke="#000" stroke-width="1.35" fill="none"/>
<path d="M181.06 380.42H187.26M181.06 393.14H187.26" stroke="#000" stroke-width="1.7" fill="none"/>
<g transform="translate(191.25 0)"><rect x="0.5" y="505.34" width="9.17" height="13.66" fill="#000" stroke="#222" stroke-width="1"/></g>
<path d="M196.33 498.48V511.2" stroke="#000" stroke-width="1.35" fill="none"/>
<path d="M193.23 498.48H199.43M193.23 511.2H199.43" stroke="#000" stroke-width="1.7" fill="none"/>
<g transform="translate(203.42 0)"><rect x="0.5" y="505.63" width="9.17" height="13.37" fill="#000" stroke="#222" stroke-width="1"/></g>
<path d="M208.5 503.68V506.57" stroke="#000" stroke-width="1.35" fill="none"/>
<path d="M205.4 503.68H211.6M205.4 506.57H211.6" stroke="#000" stroke-width="1.7" fill="none"/>
<g transform="translate(215.59 0)"><rect x="0.5" y="517.04" width="9.17" height="1.96" fill="#000" stroke="#222" stroke-width="1"/></g>
<path d="M220.67 516.11V516.98" stroke="#000" stroke-width="1.35" fill="none"/>
<path d="M217.57 516.11H223.77M217.57 516.98H223.77" stroke="#000" stroke-width="1.7" fill="none"/>
<g transform="translate(227.76 0)"><rect x="0.5" y="395.95" width="9.17" height="123.05" fill="url(#ps)" stroke="#222" stroke-width="1"/></g>
<path d="M232.84 384.47V406.29" stroke="#000" stroke-width="1.35" fill="none"/>
<path d="M229.74 384.47H235.94M229.74 406.29H235.94" stroke="#000" stroke-width="1.7" fill="none"/>
<g transform="translate(239.93 0)"><rect x="0.5" y="378.9" width="9.17" height="140.1" fill="url(#ps)" stroke="#222" stroke-width="1"/></g>
<path d="M245.01 376.96V380.42" stroke="#000" stroke-width="1.35" fill="none"/>
<path d="M241.91 376.96H248.11M241.91 380.42H248.11" stroke="#000" stroke-width="1.7" fill="none"/>
<g transform="translate(252.1 0)"><rect x="0.5" y="386.99" width="9.17" height="132.01" fill="url(#ps)" stroke="#222" stroke-width="1"/></g>
<path d="M257.19 380.86V391.55" stroke="#000" stroke-width="1.35" fill="none"/>
<path d="M254.09 380.86H260.29M254.09 391.55H260.29" stroke="#000" stroke-width="1.7" fill="none"/>
<path d="M38 519H264.6" stroke="#000" stroke-width="2"/>
<path d="M44 373.5V520" stroke="#000" stroke-width="2"/>
<path d="M38.5 519H44" stroke="#000" stroke-width="2"/>
<text x="0" y="0" font-size="10.8" text-anchor="end" transform="translate(37 522.9) scale(0.93 1)">0</text>
<path d="M38.5 490.1H44" stroke="#000" stroke-width="2"/>
<text x="0" y="0" font-size="10.8" text-anchor="end" transform="translate(37 494) scale(0.93 1)">20</text>
<path d="M38.5 461.2H44" stroke="#000" stroke-width="2"/>
<text x="0" y="0" font-size="10.8" text-anchor="end" transform="translate(37 465.1) scale(0.93 1)">40</text>
<path d="M38.5 432.3H44" stroke="#000" stroke-width="2"/>
<text x="0" y="0" font-size="10.8" text-anchor="end" transform="translate(37 436.2) scale(0.93 1)">60</text>
<path d="M38.5 403.4H44" stroke="#000" stroke-width="2"/>
<text x="0" y="0" font-size="10.8" text-anchor="end" transform="translate(37 407.3) scale(0.93 1)">80</text>
<path d="M38.5 374.5H44" stroke="#000" stroke-width="2"/>
<text x="0" y="0" font-size="10.8" text-anchor="end" transform="translate(37 378.4) scale(0.93 1)">100</text>
<text x="44.1" y="372.5" font-size="9.2" text-anchor="start">Blood</text>
<text x="77.4" y="372.5" font-size="9.2" text-anchor="start">Jejunum</text>
<text x="117.9" y="372.5" font-size="9.2" text-anchor="start">Colon</text>
<text x="154.9" y="372.5" font-size="9.2" text-anchor="start">MLN</text>
<text x="185.2" y="372.5" font-size="9.2" text-anchor="start">Thymus</text>
<text x="226" y="372.5" font-size="9.2" text-anchor="start">Spleen</text>
<text x="87.9" y="383.5" font-size="9" text-anchor="start">LPL</text>
<text x="120.2" y="383.5" font-size="9" text-anchor="start">LPL</text>
<line x1="329.8" y1="377.3" x2="329.8" y2="519.4" stroke="#555" stroke-width="1" stroke-dasharray="1.6 1.9"/>
<line x1="366.4" y1="377.3" x2="366.4" y2="519.4" stroke="#555" stroke-width="1" stroke-dasharray="1.6 1.9"/>
<line x1="403.4" y1="377.3" x2="403.4" y2="519.4" stroke="#555" stroke-width="1" stroke-dasharray="1.6 1.9"/>
<line x1="439.4" y1="377.3" x2="439.4" y2="519.4" stroke="#555" stroke-width="1" stroke-dasharray="1.6 1.9"/>
<line x1="475.4" y1="377.3" x2="475.4" y2="519.4" stroke="#555" stroke-width="1" stroke-dasharray="1.6 1.9"/>
<g transform="translate(295.4 0)"><rect x="0.5" y="397.98" width="9.02" height="121.42" fill="#fff" stroke="#222" stroke-width="1"/></g>
<path d="M300.41 395.62V399.19" stroke="#000" stroke-width="1.35" fill="none"/>
<path d="M297.31 395.62H303.51M297.31 399.19H303.51" stroke="#000" stroke-width="1.7" fill="none"/>
<g transform="translate(307.42 0)"><rect x="0.5" y="397.12" width="9.02" height="122.28" fill="#fff" stroke="#222" stroke-width="1"/></g>
<path d="M312.44 389.49V403.47" stroke="#000" stroke-width="1.35" fill="none"/>
<path d="M309.34 389.49H315.54M309.34 403.47H315.54" stroke="#000" stroke-width="1.7" fill="none"/>
<g transform="translate(319.45 0)"><rect x="0.5" y="401.97" width="9.02" height="117.43" fill="#fff" stroke="#222" stroke-width="1"/></g>
<path d="M324.46 394.48V408.31" stroke="#000" stroke-width="1.35" fill="none"/>
<path d="M321.36 394.48H327.56M321.36 408.31H327.56" stroke="#000" stroke-width="1.7" fill="none"/>
<g transform="translate(331.47 0)"><rect x="0.5" y="465.85" width="9.02" height="53.55" fill="url(#pj)" stroke="#222" stroke-width="1"/></g>
<path d="M336.48 452.95V478.19" stroke="#000" stroke-width="1.35" fill="none"/>
<path d="M333.38 452.95H339.58M333.38 478.19H339.58" stroke="#000" stroke-width="1.7" fill="none"/>
<g transform="translate(343.49 0)"><rect x="0.5" y="455.73" width="9.02" height="63.67" fill="url(#pj)" stroke="#222" stroke-width="1"/></g>
<path d="M348.51 443.39V467.07" stroke="#000" stroke-width="1.35" fill="none"/>
<path d="M345.41 443.39H351.61M345.41 467.07H351.61" stroke="#000" stroke-width="1.7" fill="none"/>
<g transform="translate(355.52 0)"><rect x="0.5" y="495.94" width="9.02" height="23.46" fill="url(#pj)" stroke="#222" stroke-width="1"/></g>
<path d="M360.53 487.46V503.14" stroke="#000" stroke-width="1.35" fill="none"/>
<path d="M357.43 487.46H363.63M357.43 503.14H363.63" stroke="#000" stroke-width="1.7" fill="none"/>
<g transform="translate(367.54 0)"><rect x="0.5" y="449.17" width="9.02" height="70.23" fill="url(#pc)" stroke="#222" stroke-width="1"/></g>
<path d="M372.55 431.56V465.93" stroke="#000" stroke-width="1.35" fill="none"/>
<path d="M369.45 431.56H375.65M369.45 465.93H375.65" stroke="#000" stroke-width="1.7" fill="none"/>
<g transform="translate(379.56 0)"><rect x="0.5" y="418.65" width="9.02" height="100.75" fill="url(#pc)" stroke="#222" stroke-width="1"/></g>
<path d="M384.58 406.75V429.42" stroke="#000" stroke-width="1.35" fill="none"/>
<path d="M381.48 406.75H387.68M381.48 429.42H387.68" stroke="#000" stroke-width="1.7" fill="none"/>
<g transform="translate(391.59 0)"><rect x="0.5" y="482.25" width="9.02" height="37.15" fill="url(#pc)" stroke="#222" stroke-width="1"/></g>
<path d="M396.6 468.06V495.02" stroke="#000" stroke-width="1.35" fill="none"/>
<path d="M393.5 468.06H399.7M393.5 495.02H399.7" stroke="#000" stroke-width="1.7" fill="none"/>
<g transform="translate(403.61 0)"><rect x="0.5" y="394.41" width="9.02" height="124.99" fill="url(#pm)" stroke="#222" stroke-width="1"/></g>
<path d="M408.62 390.49V398.19" stroke="#000" stroke-width="1.35" fill="none"/>
<path d="M405.52 390.49H411.72M405.52 398.19H411.72" stroke="#000" stroke-width="1.7" fill="none"/>
<g transform="translate(415.64 0)"><rect x="0.5" y="384.29" width="9.02" height="135.11" fill="url(#pm)" stroke="#222" stroke-width="1"/></g>
<path d="M420.65 382.79V385.36" stroke="#000" stroke-width="1.35" fill="none"/>
<path d="M417.55 382.79H423.75M417.55 385.36H423.75" stroke="#000" stroke-width="1.7" fill="none"/>
<g transform="translate(427.66 0)"><rect x="0.5" y="414.66" width="9.02" height="104.74" fill="url(#pm)" stroke="#222" stroke-width="1"/></g>
<path d="M432.67 404.04V423.86" stroke="#000" stroke-width="1.35" fill="none"/>
<path d="M429.57 404.04H435.77M429.57 423.86H435.77" stroke="#000" stroke-width="1.7" fill="none"/>
<g transform="translate(439.68 0)"><rect x="0.5" y="506.21" width="9.02" height="13.19" fill="#000" stroke="#222" stroke-width="1"/></g>
<path d="M444.69 500.86V510.56" stroke="#000" stroke-width="1.35" fill="none"/>
<path d="M441.59 500.86H447.79M441.59 510.56H447.79" stroke="#000" stroke-width="1.7" fill="none"/>
<g transform="translate(451.71 0)"><rect x="0.5" y="508.49" width="9.02" height="10.91" fill="#000" stroke="#222" stroke-width="1"/></g>
<path d="M456.72 501.86V514.12" stroke="#000" stroke-width="1.35" fill="none"/>
<path d="M453.62 501.86H459.82M453.62 514.12H459.82" stroke="#000" stroke-width="1.7" fill="none"/>
<g transform="translate(463.73 0)"><rect x="0.5" y="517.05" width="9.02" height="2.35" fill="#000" stroke="#222" stroke-width="1"/></g>
<path d="M468.74 516.26V516.83" stroke="#000" stroke-width="1.35" fill="none"/>
<path d="M465.64 516.26H471.84M465.64 516.83H471.84" stroke="#000" stroke-width="1.7" fill="none"/>
<g transform="translate(475.75 0)"><rect x="0.5" y="420.65" width="9.02" height="98.75" fill="url(#ps)" stroke="#222" stroke-width="1"/></g>
<path d="M480.76 410.17V430.99" stroke="#000" stroke-width="1.35" fill="none"/>
<path d="M477.66 410.17H483.86M477.66 430.99H483.86" stroke="#000" stroke-width="1.7" fill="none"/>
<g transform="translate(487.78 0)"><rect x="0.5" y="408.96" width="9.02" height="110.44" fill="url(#ps)" stroke="#222" stroke-width="1"/></g>
<path d="M492.79 403.32V414.16" stroke="#000" stroke-width="1.35" fill="none"/>
<path d="M489.69 403.32H495.89M489.69 414.16H495.89" stroke="#000" stroke-width="1.7" fill="none"/>
<g transform="translate(499.8 0)"><rect x="0.5" y="419.08" width="9.02" height="100.32" fill="url(#ps)" stroke="#222" stroke-width="1"/></g>
<path d="M504.81 408.03V429.13" stroke="#000" stroke-width="1.35" fill="none"/>
<path d="M501.71 408.03H507.91M501.71 429.13H507.91" stroke="#000" stroke-width="1.7" fill="none"/>
<path d="M288.2 519.4H511.8" stroke="#000" stroke-width="2"/>
<path d="M294.2 375.8V520.4" stroke="#000" stroke-width="2"/>
<path d="M288.7 519.4H294.2" stroke="#000" stroke-width="2"/>
<text x="0" y="0" font-size="10.8" text-anchor="end" transform="translate(287.2 523.3) scale(0.93 1)">0</text>
<path d="M288.7 490.88H294.2" stroke="#000" stroke-width="2"/>
<text x="0" y="0" font-size="10.8" text-anchor="end" transform="translate(287.2 494.78) scale(0.93 1)">20</text>
<path d="M288.7 462.36H294.2" stroke="#000" stroke-width="2"/>
<text x="0" y="0" font-size="10.8" text-anchor="end" transform="translate(287.2 466.26) scale(0.93 1)">40</text>
<path d="M288.7 433.84H294.2" stroke="#000" stroke-width="2"/>
<text x="0" y="0" font-size="10.8" text-anchor="end" transform="translate(287.2 437.74) scale(0.93 1)">60</text>
<path d="M288.7 405.32H294.2" stroke="#000" stroke-width="2"/>
<text x="0" y="0" font-size="10.8" text-anchor="end" transform="translate(287.2 409.22) scale(0.93 1)">80</text>
<path d="M288.7 376.8H294.2" stroke="#000" stroke-width="2"/>
<text x="0" y="0" font-size="10.8" text-anchor="end" transform="translate(287.2 380.7) scale(0.93 1)">100</text>
<path d="M357.8 451.1L357.8 457.1M355.2 452.6L360.4 455.6M360.4 452.6L355.2 455.6" stroke="#000" stroke-width="1.9" stroke-linecap="round" fill="none"/>
<path d="M394 451.1L394 457.1M391.4 452.6L396.6 455.6M396.6 452.6L391.4 455.6" stroke="#000" stroke-width="1.9" stroke-linecap="round" fill="none"/>
<text x="297.9" y="372.7" font-size="9.2" text-anchor="start">Blood</text>
<text x="330.9" y="372.7" font-size="9.2" text-anchor="start">Jejunum</text>
<text x="370.6" y="372.7" font-size="9.2" text-anchor="start">Colon</text>
<text x="408.15" y="372.7" font-size="9.2" text-anchor="start">MLN</text>
<text x="438.15" y="372.7" font-size="9.2" text-anchor="start">Thymus</text>
<text x="476.15" y="372.7" font-size="9.2" text-anchor="start">Spleen</text>
<text x="340.6" y="383.8" font-size="9" text-anchor="start">LPL</text>
<text x="372.9" y="383.8" font-size="9" text-anchor="start">LPL</text>
<line x1="82.9" y1="546" x2="82.9" y2="690" stroke="#555" stroke-width="1" stroke-dasharray="1.6 1.9"/>
<line x1="119.5" y1="546" x2="119.5" y2="690" stroke="#555" stroke-width="1" stroke-dasharray="1.6 1.9"/>
<line x1="155.4" y1="546" x2="155.4" y2="690" stroke="#555" stroke-width="1" stroke-dasharray="1.6 1.9"/>
<line x1="192" y1="546" x2="192" y2="690" stroke="#555" stroke-width="1" stroke-dasharray="1.6 1.9"/>
<line x1="229" y1="546" x2="229" y2="690" stroke="#555" stroke-width="1" stroke-dasharray="1.6 1.9"/>
<g transform="translate(47.5 0)"><rect x="0.5" y="557.7" width="9.15" height="132.3" fill="#fff" stroke="#222" stroke-width="1"/></g>
<path d="M52.57 555.47V558.94" stroke="#000" stroke-width="1.35" fill="none"/>
<path d="M49.47 555.47H55.67M49.47 558.94H55.67" stroke="#000" stroke-width="1.7" fill="none"/>
<g transform="translate(59.65 0)"><rect x="0.5" y="574.32" width="9.15" height="115.68" fill="#fff" stroke="#222" stroke-width="1"/></g>
<path d="M64.72 571.94V575.56" stroke="#000" stroke-width="1.35" fill="none"/>
<path d="M61.62 571.94H67.82M61.62 575.56H67.82" stroke="#000" stroke-width="1.7" fill="none"/>
<g transform="translate(71.79 0)"><rect x="0.5" y="562.04" width="9.15" height="127.96" fill="#fff" stroke="#222" stroke-width="1"/></g>
<path d="M76.87 559.81V563.27" stroke="#000" stroke-width="1.35" fill="none"/>
<path d="M73.77 559.81H79.97M73.77 563.27H79.97" stroke="#000" stroke-width="1.7" fill="none"/>
<g transform="translate(83.94 0)"><rect x="0.5" y="621.14" width="9.15" height="68.86" fill="url(#pj)" stroke="#222" stroke-width="1"/></g>
<path d="M89.01 619.05V622.95" stroke="#000" stroke-width="1.35" fill="none"/>
<path d="M85.91 619.05H92.11M85.91 622.95H92.11" stroke="#000" stroke-width="1.7" fill="none"/>
<g transform="translate(96.09 0)"><rect x="0.5" y="620.13" width="9.15" height="69.87" fill="url(#pj)" stroke="#222" stroke-width="1"/></g>
<path d="M101.16 617.03V622.23" stroke="#000" stroke-width="1.35" fill="none"/>
<path d="M98.06 617.03H104.26M98.06 622.23H104.26" stroke="#000" stroke-width="1.7" fill="none"/>
<g transform="translate(108.24 0)"><rect x="0.5" y="594.26" width="9.15" height="95.74" fill="url(#pj)" stroke="#222" stroke-width="1"/></g>
<path d="M113.31 585.96V601.42" stroke="#000" stroke-width="1.35" fill="none"/>
<path d="M110.21 585.96H116.41M110.21 601.42H116.41" stroke="#000" stroke-width="1.7" fill="none"/>
<g transform="translate(120.38 0)"><rect x="0.5" y="615.36" width="9.15" height="74.64" fill="url(#pc)" stroke="#222" stroke-width="1"/></g>
<path d="M125.46 613.56V616.45" stroke="#000" stroke-width="1.35" fill="none"/>
<path d="M122.36 613.56H128.56M122.36 616.45H128.56" stroke="#000" stroke-width="1.7" fill="none"/>
<g transform="translate(132.53 0)"><rect x="0.5" y="625.48" width="9.15" height="64.52" fill="url(#pc)" stroke="#222" stroke-width="1"/></g>
<path d="M137.6 622.23V628.3" stroke="#000" stroke-width="1.35" fill="none"/>
<path d="M134.5 622.23H140.7M134.5 628.3H140.7" stroke="#000" stroke-width="1.7" fill="none"/>
<g transform="translate(144.68 0)"><rect x="0.5" y="599.03" width="9.15" height="90.97" fill="url(#pc)" stroke="#222" stroke-width="1"/></g>
<path d="M149.75 588.42V608.5" stroke="#000" stroke-width="1.35" fill="none"/>
<path d="M146.65 588.42H152.85M146.65 608.5H152.85" stroke="#000" stroke-width="1.7" fill="none"/>
<g transform="translate(156.82 0)"><rect x="0.5" y="571.29" width="9.15" height="118.71" fill="url(#pm)" stroke="#222" stroke-width="1"/></g>
<path d="M161.9 569.92V571.94" stroke="#000" stroke-width="1.35" fill="none"/>
<path d="M158.8 569.92H165M158.8 571.94H165" stroke="#000" stroke-width="1.7" fill="none"/>
<g transform="translate(168.97 0)"><rect x="0.5" y="564.06" width="9.15" height="125.94" fill="url(#pm)" stroke="#222" stroke-width="1"/></g>
<path d="M174.04 561.39V567.46" stroke="#000" stroke-width="1.35" fill="none"/>
<path d="M170.94 561.39H177.14M170.94 567.46H177.14" stroke="#000" stroke-width="1.7" fill="none"/>
<g transform="translate(181.12 0)"><rect x="0.5" y="574.76" width="9.15" height="115.24" fill="url(#pm)" stroke="#222" stroke-width="1"/></g>
<path d="M186.19 573.24V575.27" stroke="#000" stroke-width="1.35" fill="none"/>
<path d="M183.09 573.24H189.29M183.09 575.27H189.29" stroke="#000" stroke-width="1.7" fill="none"/>
<g transform="translate(193.26 0)"><rect x="0.5" y="642.24" width="9.15" height="47.76" fill="#000" stroke="#222" stroke-width="1"/></g>
<path d="M198.34 638.99V644.48" stroke="#000" stroke-width="1.35" fill="none"/>
<path d="M195.24 638.99H201.44M195.24 644.48H201.44" stroke="#000" stroke-width="1.7" fill="none"/>
<g transform="translate(205.41 0)"><rect x="0.5" y="659.29" width="9.15" height="30.71" fill="#000" stroke="#222" stroke-width="1"/></g>
<path d="M210.49 656.62V660.96" stroke="#000" stroke-width="1.35" fill="none"/>
<path d="M207.39 656.62H213.59M207.39 660.96H213.59" stroke="#000" stroke-width="1.7" fill="none"/>
<g transform="translate(217.56 0)"><rect x="0.5" y="672.15" width="9.15" height="17.85" fill="#000" stroke="#222" stroke-width="1"/></g>
<path d="M222.63 669.34V673.96" stroke="#000" stroke-width="1.35" fill="none"/>
<path d="M219.53 669.34H225.73M219.53 673.96H225.73" stroke="#000" stroke-width="1.7" fill="none"/>
<g transform="translate(229.71 0)"><rect x="0.5" y="582.12" width="9.15" height="107.88" fill="url(#ps)" stroke="#222" stroke-width="1"/></g>
<path d="M234.78 576.71V586.83" stroke="#000" stroke-width="1.35" fill="none"/>
<path d="M231.68 576.71H237.88M231.68 586.83H237.88" stroke="#000" stroke-width="1.7" fill="none"/>
<g transform="translate(241.85 0)"><rect x="0.5" y="594.12" width="9.15" height="95.88" fill="url(#ps)" stroke="#222" stroke-width="1"/></g>
<path d="M246.93 592.17V595.06" stroke="#000" stroke-width="1.35" fill="none"/>
<path d="M243.83 592.17H250.03M243.83 595.06H250.03" stroke="#000" stroke-width="1.7" fill="none"/>
<g transform="translate(254 0)"><rect x="0.5" y="581.69" width="9.15" height="108.31" fill="url(#ps)" stroke="#222" stroke-width="1"/></g>
<path d="M259.07 579.46V583.94" stroke="#000" stroke-width="1.35" fill="none"/>
<path d="M255.97 579.46H262.17M255.97 583.94H262.17" stroke="#000" stroke-width="1.7" fill="none"/>
<path d="M40.3 690H266.5" stroke="#000" stroke-width="2"/>
<path d="M46.3 544.5V691" stroke="#000" stroke-width="2"/>
<path d="M40.8 690H46.3" stroke="#000" stroke-width="2"/>
<text x="0" y="0" font-size="10.8" text-anchor="end" transform="translate(39.3 693.9) scale(0.93 1)">0</text>
<path d="M40.8 661.1H46.3" stroke="#000" stroke-width="2"/>
<text x="0" y="0" font-size="10.8" text-anchor="end" transform="translate(39.3 665) scale(0.93 1)">20</text>
<path d="M40.8 632.2H46.3" stroke="#000" stroke-width="2"/>
<text x="0" y="0" font-size="10.8" text-anchor="end" transform="translate(39.3 636.1) scale(0.93 1)">40</text>
<path d="M40.8 603.3H46.3" stroke="#000" stroke-width="2"/>
<text x="0" y="0" font-size="10.8" text-anchor="end" transform="translate(39.3 607.2) scale(0.93 1)">60</text>
<path d="M40.8 574.4H46.3" stroke="#000" stroke-width="2"/>
<text x="0" y="0" font-size="10.8" text-anchor="end" transform="translate(39.3 578.3) scale(0.93 1)">80</text>
<path d="M40.8 545.5H46.3" stroke="#000" stroke-width="2"/>
<text x="0" y="0" font-size="10.8" text-anchor="end" transform="translate(39.3 549.4) scale(0.93 1)">100</text>
<text x="52.1" y="538.8" font-size="9.2" text-anchor="start">Blood</text>
<text x="82.8" y="538.8" font-size="9.2" text-anchor="start">Jejunum</text>
<text x="122.9" y="538.8" font-size="9.2" text-anchor="start">Colon</text>
<text x="159.9" y="538.8" font-size="9.2" text-anchor="start">MLN</text>
<text x="190.65" y="538.8" font-size="9.2" text-anchor="start">Thymus</text>
<text x="230.65" y="538.8" font-size="9.2" text-anchor="start">Spleen</text>
<text x="95.2" y="549.2" font-size="9" text-anchor="start">LPL</text>
<text x="128.3" y="549.2" font-size="9" text-anchor="start">LPL</text>
<line x1="330.9" y1="548.8" x2="330.9" y2="693.8" stroke="#555" stroke-width="1" stroke-dasharray="1.6 1.9"/>
<line x1="368.6" y1="548.8" x2="368.6" y2="693.8" stroke="#555" stroke-width="1" stroke-dasharray="1.6 1.9"/>
<line x1="405.7" y1="548.8" x2="405.7" y2="693.8" stroke="#555" stroke-width="1" stroke-dasharray="1.6 1.9"/>
<line x1="442.7" y1="548.8" x2="442.7" y2="693.8" stroke="#555" stroke-width="1" stroke-dasharray="1.6 1.9"/>
<line x1="479.9" y1="548.8" x2="479.9" y2="693.8" stroke="#555" stroke-width="1" stroke-dasharray="1.6 1.9"/>
<g transform="translate(295.8 0)"><rect x="0.5" y="558.26" width="9.33" height="135.54" fill="#fff" stroke="#222" stroke-width="1"/></g>
<path d="M300.96 555.14V559.79" stroke="#000" stroke-width="1.35" fill="none"/>
<path d="M297.86 555.14H304.06M297.86 559.79H304.06" stroke="#000" stroke-width="1.7" fill="none"/>
<g transform="translate(308.13 0)"><rect x="0.5" y="591.14" width="9.33" height="102.66" fill="#fff" stroke="#222" stroke-width="1"/></g>
<path d="M313.29 574.34V606.35" stroke="#000" stroke-width="1.35" fill="none"/>
<path d="M310.19 574.34H316.39M310.19 606.35H316.39" stroke="#000" stroke-width="1.7" fill="none"/>
<g transform="translate(320.46 0)"><rect x="0.5" y="570.19" width="9.33" height="123.61" fill="#fff" stroke="#222" stroke-width="1"/></g>
<path d="M325.62 562.56V576.24" stroke="#000" stroke-width="1.35" fill="none"/>
<path d="M322.52 562.56H328.72M322.52 576.24H328.72" stroke="#000" stroke-width="1.7" fill="none"/>
<g transform="translate(332.79 0)"><rect x="0.5" y="605.11" width="9.33" height="88.69" fill="url(#pj)" stroke="#222" stroke-width="1"/></g>
<path d="M337.95 596.46V613.19" stroke="#000" stroke-width="1.35" fill="none"/>
<path d="M334.85 596.46H341.05M334.85 613.19H341.05" stroke="#000" stroke-width="1.7" fill="none"/>
<g transform="translate(345.12 0)"><rect x="0.5" y="613.26" width="9.33" height="80.54" fill="url(#pj)" stroke="#222" stroke-width="1"/></g>
<path d="M350.28 600.68V624.98" stroke="#000" stroke-width="1.35" fill="none"/>
<path d="M347.18 600.68H353.38M347.18 624.98H353.38" stroke="#000" stroke-width="1.7" fill="none"/>
<g transform="translate(357.45 0)"><rect x="0.5" y="620.24" width="9.33" height="73.56" fill="url(#pj)" stroke="#222" stroke-width="1"/></g>
<path d="M362.61 610.57V629.34" stroke="#000" stroke-width="1.35" fill="none"/>
<path d="M359.51 610.57H365.71M359.51 629.34H365.71" stroke="#000" stroke-width="1.7" fill="none"/>
<g transform="translate(369.78 0)"><rect x="0.5" y="595.36" width="9.33" height="98.44" fill="url(#pc)" stroke="#222" stroke-width="1"/></g>
<path d="M374.94 586.86V602.43" stroke="#000" stroke-width="1.35" fill="none"/>
<path d="M371.84 586.86H378.04M371.84 602.43H378.04" stroke="#000" stroke-width="1.7" fill="none"/>
<g transform="translate(382.11 0)"><rect x="0.5" y="599.14" width="9.33" height="94.66" fill="url(#pc)" stroke="#222" stroke-width="1"/></g>
<path d="M387.27 590.06V607.23" stroke="#000" stroke-width="1.35" fill="none"/>
<path d="M384.17 590.06H390.37M384.17 607.23H390.37" stroke="#000" stroke-width="1.7" fill="none"/>
<g transform="translate(394.44 0)"><rect x="0.5" y="615.73" width="9.33" height="78.07" fill="url(#pc)" stroke="#222" stroke-width="1"/></g>
<path d="M399.6 606.65V623.96" stroke="#000" stroke-width="1.35" fill="none"/>
<path d="M396.5 606.65H402.7M396.5 623.96H402.7" stroke="#000" stroke-width="1.7" fill="none"/>
<g transform="translate(406.76 0)"><rect x="0.5" y="569.46" width="9.33" height="124.34" fill="url(#pm)" stroke="#222" stroke-width="1"/></g>
<path d="M411.93 562.7V575.22" stroke="#000" stroke-width="1.35" fill="none"/>
<path d="M408.83 562.7H415.03M408.83 575.22H415.03" stroke="#000" stroke-width="1.7" fill="none"/>
<g transform="translate(419.09 0)"><rect x="0.5" y="565.97" width="9.33" height="127.83" fill="url(#pm)" stroke="#222" stroke-width="1"/></g>
<path d="M424.26 560.96V569.54" stroke="#000" stroke-width="1.35" fill="none"/>
<path d="M421.16 560.96H427.36M421.16 569.54H427.36" stroke="#000" stroke-width="1.7" fill="none"/>
<g transform="translate(431.42 0)"><rect x="0.5" y="584.74" width="9.33" height="109.06" fill="url(#pm)" stroke="#222" stroke-width="1"/></g>
<path d="M436.59 574.05V595.15" stroke="#000" stroke-width="1.35" fill="none"/>
<path d="M433.49 574.05H439.69M433.49 595.15H439.69" stroke="#000" stroke-width="1.7" fill="none"/>
<g transform="translate(443.75 0)"><rect x="0.5" y="636.54" width="9.33" height="57.26" fill="#000" stroke="#222" stroke-width="1"/></g>
<path d="M448.92 618.72V653.35" stroke="#000" stroke-width="1.35" fill="none"/>
<path d="M445.82 618.72H452.02M445.82 653.35H452.02" stroke="#000" stroke-width="1.7" fill="none"/>
<g transform="translate(456.08 0)"><rect x="0.5" y="664.76" width="9.33" height="29.04" fill="#000" stroke="#222" stroke-width="1"/></g>
<path d="M461.25 655.24V673.28" stroke="#000" stroke-width="1.35" fill="none"/>
<path d="M458.15 655.24H464.35M458.15 673.28H464.35" stroke="#000" stroke-width="1.7" fill="none"/>
<g transform="translate(468.41 0)"><rect x="0.5" y="673.64" width="9.33" height="20.16" fill="#000" stroke="#222" stroke-width="1"/></g>
<path d="M473.58 667.46V678.81" stroke="#000" stroke-width="1.35" fill="none"/>
<path d="M470.48 667.46H476.68M470.48 678.81H476.68" stroke="#000" stroke-width="1.7" fill="none"/>
<g transform="translate(480.74 0)"><rect x="0.5" y="581.39" width="9.33" height="112.41" fill="url(#ps)" stroke="#222" stroke-width="1"/></g>
<path d="M485.91 572.31V588.31" stroke="#000" stroke-width="1.35" fill="none"/>
<path d="M482.81 572.31H489.01M482.81 588.31H489.01" stroke="#000" stroke-width="1.7" fill="none"/>
<g transform="translate(493.07 0)"><rect x="0.5" y="603.94" width="9.33" height="89.86" fill="url(#ps)" stroke="#222" stroke-width="1"/></g>
<path d="M498.24 594.42V613.05" stroke="#000" stroke-width="1.35" fill="none"/>
<path d="M495.14 594.42H501.34M495.14 613.05H501.34" stroke="#000" stroke-width="1.7" fill="none"/>
<g transform="translate(505.4 0)"><rect x="0.5" y="589.69" width="9.33" height="104.11" fill="url(#ps)" stroke="#222" stroke-width="1"/></g>
<path d="M510.56 579.73V598.93" stroke="#000" stroke-width="1.35" fill="none"/>
<path d="M507.46 579.73H513.66M507.46 598.93H513.66" stroke="#000" stroke-width="1.7" fill="none"/>
<path d="M288.6 693.8H517" stroke="#000" stroke-width="2"/>
<path d="M294.6 547.3V694.8" stroke="#000" stroke-width="2"/>
<path d="M289.1 693.8H294.6" stroke="#000" stroke-width="2"/>
<text x="0" y="0" font-size="10.8" text-anchor="end" transform="translate(287.6 697.7) scale(0.93 1)">0</text>
<path d="M289.1 664.7H294.6" stroke="#000" stroke-width="2"/>
<text x="0" y="0" font-size="10.8" text-anchor="end" transform="translate(287.6 668.6) scale(0.93 1)">20</text>
<path d="M289.1 635.6H294.6" stroke="#000" stroke-width="2"/>
<text x="0" y="0" font-size="10.8" text-anchor="end" transform="translate(287.6 639.5) scale(0.93 1)">40</text>
<path d="M289.1 606.5H294.6" stroke="#000" stroke-width="2"/>
<text x="0" y="0" font-size="10.8" text-anchor="end" transform="translate(287.6 610.4) scale(0.93 1)">60</text>
<path d="M289.1 577.4H294.6" stroke="#000" stroke-width="2"/>
<text x="0" y="0" font-size="10.8" text-anchor="end" transform="translate(287.6 581.3) scale(0.93 1)">80</text>
<path d="M289.1 548.3H294.6" stroke="#000" stroke-width="2"/>
<text x="0" y="0" font-size="10.8" text-anchor="end" transform="translate(287.6 552.2) scale(0.93 1)">100</text>
<path d="M300.96 693.8V698.8" stroke="#000" stroke-width="2"/>
<path d="M313.29 693.8V698.8" stroke="#000" stroke-width="2"/>
<path d="M325.62 693.8V698.8" stroke="#000" stroke-width="2"/>
<path d="M337.95 693.8V698.8" stroke="#000" stroke-width="2"/>
<path d="M350.28 693.8V698.8" stroke="#000" stroke-width="2"/>
<path d="M362.61 693.8V698.8" stroke="#000" stroke-width="2"/>
<path d="M374.94 693.8V698.8" stroke="#000" stroke-width="2"/>
<path d="M387.27 693.8V698.8" stroke="#000" stroke-width="2"/>
<path d="M399.6 693.8V698.8" stroke="#000" stroke-width="2"/>
<path d="M411.93 693.8V698.8" stroke="#000" stroke-width="2"/>
<path d="M424.26 693.8V698.8" stroke="#000" stroke-width="2"/>
<path d="M436.59 693.8V698.8" stroke="#000" stroke-width="2"/>
<path d="M448.92 693.8V698.8" stroke="#000" stroke-width="2"/>
<path d="M461.25 693.8V698.8" stroke="#000" stroke-width="2"/>
<path d="M473.58 693.8V698.8" stroke="#000" stroke-width="2"/>
<path d="M485.91 693.8V698.8" stroke="#000" stroke-width="2"/>
<path d="M498.24 693.8V698.8" stroke="#000" stroke-width="2"/>
<path d="M510.56 693.8V698.8" stroke="#000" stroke-width="2"/>
<path d="M362.6 593.6L362.6 599.6M360 595.1L365.2 598.1M365.2 595.1L360 598.1" stroke="#000" stroke-width="1.9" stroke-linecap="round" fill="none"/>
<text x="297.9" y="538.8" font-size="9.2" text-anchor="start">Blood</text>
<text x="330.9" y="538.8" font-size="9.2" text-anchor="start">Jejunum</text>
<text x="371.4" y="538.8" font-size="9.2" text-anchor="start">Colon</text>
<text x="408.15" y="538.8" font-size="9.2" text-anchor="start">MLN</text>
<text x="441.4" y="538.8" font-size="9.2" text-anchor="start">Thymus</text>
<text x="482.4" y="538.8" font-size="9.2" text-anchor="start">Spleen</text>
<text x="340.6" y="549.9" font-size="9" text-anchor="start">LPL</text>
<text x="372.9" y="549.9" font-size="9" text-anchor="start">LPL</text>
<text x="0" y="0" font-size="12" text-anchor="middle" transform="translate(15.6 117.05) rotate(-90) scale(1.0 1.2)">% CD69+</text>
<text x="0" y="0" font-size="12" text-anchor="middle" transform="translate(12.9 283.2) rotate(-90) scale(1.0 1.2)">% CD62L+</text>
<text x="0" y="0" font-size="12" text-anchor="middle" transform="translate(14.9 447.25) rotate(-90) scale(1.0 1.2)">% CD45RA+</text>
<text x="0" y="0" font-size="12" text-anchor="middle" transform="translate(14 617.95) rotate(-90) scale(1.0 1.2)">% CCR7+</text>
<text x="0" y="0" font-size="11.1" text-anchor="end" style="stroke-width:0.15px" transform="translate(56.47 693.6) rotate(-90) scale(0.96 1)">SP CD4+</text>
<text x="0" y="0" font-size="11.1" text-anchor="end" style="stroke-width:0.15px" transform="translate(68.62 693.6) rotate(-90) scale(0.96 1)">SP CD8+</text>
<text x="0" y="0" font-size="11.1" text-anchor="end" style="stroke-width:0.15px" transform="translate(80.77 693.6) rotate(-90) scale(0.96 1)">DP CD4+CD8+</text>
<text x="0" y="0" font-size="11.1" text-anchor="end" style="stroke-width:0.15px" transform="translate(92.91 693.6) rotate(-90) scale(0.96 1)">SP CD4+</text>
<text x="0" y="0" font-size="11.1" text-anchor="end" style="stroke-width:0.15px" transform="translate(105.06 693.6) rotate(-90) scale(0.96 1)">SP CD8+</text>
<text x="0" y="0" font-size="11.1" text-anchor="end" style="stroke-width:0.15px" transform="translate(117.21 693.6) rotate(-90) scale(0.96 1)">DP CD4+CD8+</text>
<text x="0" y="0" font-size="11.1" text-anchor="end" style="stroke-width:0.15px" transform="translate(129.36 693.6) rotate(-90) scale(0.96 1)">SP CD4+</text>
<text x="0" y="0" font-size="11.1" text-anchor="end" style="stroke-width:0.15px" transform="translate(141.5 693.6) rotate(-90) scale(0.96 1)">SP CD8+</text>
<text x="0" y="0" font-size="11.1" text-anchor="end" style="stroke-width:0.15px" transform="translate(153.65 693.6) rotate(-90) scale(0.96 1)">DP CD4+CD8+</text>
<text x="0" y="0" font-size="11.1" text-anchor="end" style="stroke-width:0.15px" transform="translate(165.8 693.6) rotate(-90) scale(0.96 1)">SP CD4+</text>
<text x="0" y="0" font-size="11.1" text-anchor="end" style="stroke-width:0.15px" transform="translate(177.94 693.6) rotate(-90) scale(0.96 1)">SP CD8+</text>
<text x="0" y="0" font-size="11.1" text-anchor="end" style="stroke-width:0.15px" transform="translate(190.09 693.6) rotate(-90) scale(0.96 1)">DP CD4+CD8+</text>
<text x="0" y="0" font-size="11.1" text-anchor="end" style="stroke-width:0.15px" transform="translate(202.24 693.6) rotate(-90) scale(0.96 1)">SP CD4+</text>
<text x="0" y="0" font-size="11.1" text-anchor="end" style="stroke-width:0.15px" transform="translate(214.39 693.6) rotate(-90) scale(0.96 1)">SP CD8+</text>
<text x="0" y="0" font-size="11.1" text-anchor="end" style="stroke-width:0.15px" transform="translate(226.53 693.6) rotate(-90) scale(0.96 1)">DP CD4+CD8+</text>
<text x="0" y="0" font-size="11.1" text-anchor="end" style="stroke-width:0.15px" transform="translate(238.68 693.6) rotate(-90) scale(0.96 1)">SP CD4+</text>
<text x="0" y="0" font-size="11.1" text-anchor="end" style="stroke-width:0.15px" transform="translate(250.83 693.6) rotate(-90) scale(0.96 1)">SP CD8+</text>
<text x="0" y="0" font-size="11.1" text-anchor="end" style="stroke-width:0.15px" transform="translate(262.97 693.6) rotate(-90) scale(0.96 1)">DP CD4+CD8+</text>
<text x="0" y="0" font-size="11.1" text-anchor="end" style="stroke-width:0.15px" transform="translate(304.86 703.3) rotate(-90) scale(0.96 1)">SP CD4+</text>
<text x="0" y="0" font-size="11.1" text-anchor="end" style="stroke-width:0.15px" transform="translate(317.19 703.3) rotate(-90) scale(0.96 1)">SP CD8+</text>
<text x="0" y="0" font-size="11.1" text-anchor="end" style="stroke-width:0.15px" transform="translate(329.52 703.3) rotate(-90) scale(0.96 1)">DP CD4+CD8+</text>
<text x="0" y="0" font-size="11.1" text-anchor="end" style="stroke-width:0.15px" transform="translate(341.85 703.3) rotate(-90) scale(0.96 1)">SP CD4+</text>
<text x="0" y="0" font-size="11.1" text-anchor="end" style="stroke-width:0.15px" transform="translate(354.18 703.3) rotate(-90) scale(0.96 1)">SP CD8+</text>
<text x="0" y="0" font-size="11.1" text-anchor="end" style="stroke-width:0.15px" transform="translate(366.51 703.3) rotate(-90) scale(0.96 1)">DP CD4+CD8+</text>
<text x="0" y="0" font-size="11.1" text-anchor="end" style="stroke-width:0.15px" transform="translate(378.84 703.3) rotate(-90) scale(0.96 1)">SP CD4+</text>
<text x="0" y="0" font-size="11.1" text-anchor="end" style="stroke-width:0.15px" transform="translate(391.17 703.3) rotate(-90) scale(0.96 1)">SP CD8+</text>
<text x="0" y="0" font-size="11.1" text-anchor="end" style="stroke-width:0.15px" transform="translate(403.5 703.3) rotate(-90) scale(0.96 1)">DP CD4+CD8+</text>
<text x="0" y="0" font-size="11.1" text-anchor="end" style="stroke-width:0.15px" transform="translate(415.83 703.3) rotate(-90) scale(0.96 1)">SP CD4+</text>
<text x="0" y="0" font-size="11.1" text-anchor="end" style="stroke-width:0.15px" transform="translate(428.16 703.3) rotate(-90) scale(0.96 1)">SP CD8+</text>
<text x="0" y="0" font-size="11.1" text-anchor="end" style="stroke-width:0.15px" transform="translate(440.49 703.3) rotate(-90) scale(0.96 1)">DP CD4+CD8+</text>
<text x="0" y="0" font-size="11.1" text-anchor="end" style="stroke-width:0.15px" transform="translate(452.82 703.3) rotate(-90) scale(0.96 1)">SP CD4+</text>
<text x="0" y="0" font-size="11.1" text-anchor="end" style="stroke-width:0.15px" transform="translate(465.15 703.3) rotate(-90) scale(0.96 1)">SP CD8+</text>
<text x="0" y="0" font-size="11.1" text-anchor="end" style="stroke-width:0.15px" transform="translate(477.48 703.3) rotate(-90) scale(0.96 1)">DP CD4+CD8+</text>
<text x="0" y="0" font-size="11.1" text-anchor="end" style="stroke-width:0.15px" transform="translate(489.81 703.3) rotate(-90) scale(0.96 1)">SP CD4+</text>
<text x="0" y="0" font-size="11.1" text-anchor="end" style="stroke-width:0.15px" transform="translate(502.14 703.3) rotate(-90) scale(0.96 1)">SP CD8+</text>
<text x="0" y="0" font-size="11.1" text-anchor="end" style="stroke-width:0.15px" transform="translate(514.46 703.3) rotate(-90) scale(0.96 1)">DP CD4+CD8+</text>
</svg></body></html>
